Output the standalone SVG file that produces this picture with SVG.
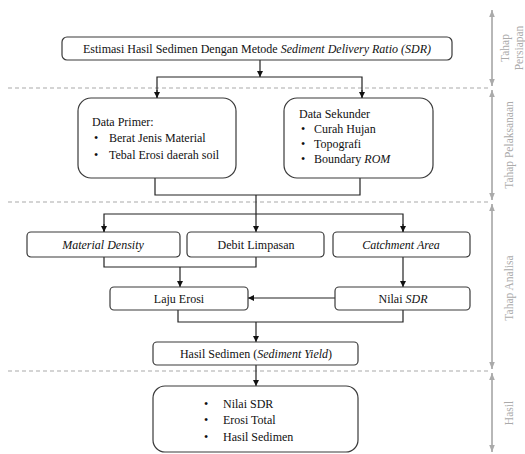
<svg xmlns="http://www.w3.org/2000/svg" width="525" height="454" viewBox="0 0 525 454">
<style>
.box{fill:#fff;stroke:#3a3a3a;stroke-width:1.2}
.t{font-family:"Liberation Serif","Times New Roman",serif;font-size:12px;fill:#111}
.i{font-style:italic}
.c{text-anchor:middle}
.ln{fill:none;stroke:#222;stroke-width:1.2}
.dash{stroke:#aaa;stroke-width:1.2;stroke-dasharray:4 3;fill:none}
.side{stroke:#aaa;stroke-width:1.2;fill:none}
.st{font-family:"Liberation Serif","Times New Roman",serif;font-size:11.5px;fill:#aaa;text-anchor:middle}
</style>
<defs>
<marker id="ar" viewBox="0 0 10 10" refX="10" refY="5" markerWidth="6" markerHeight="6" orient="auto" markerUnits="userSpaceOnUse">
<path d="M0,0 L10,5 L0,10 z" fill="#111"/>
</marker>
<marker id="ga" viewBox="0 0 10 10" refX="10" refY="5" markerWidth="7" markerHeight="7" orient="auto" markerUnits="userSpaceOnUse">
<path d="M0,1 L10,5 L0,9 z" fill="#aaa"/>
</marker>
</defs>
<g id="dividers">
<line class="dash" x1="8" y1="88" x2="488" y2="88"/>
<line class="dash" x1="8" y1="202" x2="488" y2="202"/>
<line class="dash" x1="8" y1="371" x2="488" y2="371"/>
</g>
<g id="stages">
<line class="side" x1="492" y1="86" x2="492" y2="10" marker-end="url(#ga)"/>
<line class="side" x1="492" y1="10" x2="492" y2="86" marker-end="url(#ga)"/>
<line class="side" x1="492" y1="200" x2="492" y2="90" marker-end="url(#ga)"/>
<line class="side" x1="492" y1="90" x2="492" y2="200" marker-end="url(#ga)"/>
<line class="side" x1="492" y1="369" x2="492" y2="204" marker-end="url(#ga)"/>
<line class="side" x1="492" y1="204" x2="492" y2="369" marker-end="url(#ga)"/>
<line class="side" x1="492" y1="452" x2="492" y2="373" marker-end="url(#ga)"/>
<line class="side" x1="492" y1="373" x2="492" y2="452" marker-end="url(#ga)"/>
<text class="st" transform="translate(509,48) rotate(-90)">Tahap</text>
<text class="st" transform="translate(523,48) rotate(-90)">Persiapan</text>
<text class="st" transform="translate(513,145) rotate(-90)">Tahap Pelaksanaan</text>
<text class="st" transform="translate(513,288) rotate(-90)">Tahap Analisa</text>
<text class="st" transform="translate(513,413) rotate(-90)">Hasil</text>
</g>
<g id="connectors">
<line class="ln" x1="260" y1="60" x2="260" y2="77" marker-end="url(#ar)"/>
<polyline class="ln" points="157,98 157,77 362,77 362,98"/>
<line class="ln" x1="157" y1="90" x2="157" y2="98" marker-end="url(#ar)"/>
<line class="ln" x1="362" y1="90" x2="362" y2="98" marker-end="url(#ar)"/>
<polyline class="ln" points="155,178 155,195 360,195 360,178"/>
<line class="ln" x1="256" y1="195" x2="256" y2="232" marker-end="url(#ar)"/>
<polyline class="ln" points="104,232 104,214 403,214 403,232"/>
<line class="ln" x1="104" y1="224" x2="104" y2="232" marker-end="url(#ar)"/>
<line class="ln" x1="403" y1="224" x2="403" y2="232" marker-end="url(#ar)"/>
<polyline class="ln" points="104,257 104,267 256,267 256,257"/>
<line class="ln" x1="180" y1="267" x2="180" y2="287" marker-end="url(#ar)"/>
<line class="ln" x1="403" y1="257" x2="403" y2="287" marker-end="url(#ar)"/>
<line class="ln" x1="335" y1="298" x2="248" y2="298" marker-end="url(#ar)"/>
<polyline class="ln" points="178,310 178,322 403,322 403,310"/>
<line class="ln" x1="256" y1="322" x2="256" y2="342" marker-end="url(#ar)"/>
<line class="ln" x1="256" y1="365" x2="256" y2="386" marker-end="url(#ar)"/>
</g>
<g id="n-estimasi">
<rect class="box" x="62" y="37" width="390" height="23" rx="5"/>
<text class="t c" x="257" y="53">Estimasi Hasil Sedimen Dengan Metode <tspan class="i">Sediment Delivery Ratio (SDR)</tspan></text>
</g>
<g id="n-primer">
<rect class="box" x="78" y="98" width="158" height="80" rx="13"/>
<text class="t" x="92" y="126">Data Primer:</text>
<text class="t" x="94" y="142">•</text>
<text class="t" x="109" y="142">Berat Jenis Material</text>
<text class="t" x="94" y="159">•</text>
<text class="t" x="109" y="159">Tebal Erosi daerah soil</text>
</g>
<g id="n-sekunder">
<rect class="box" x="284" y="98" width="149" height="80" rx="13"/>
<text class="t" x="299" y="118">Data Sekunder</text>
<text class="t" x="301" y="133">•</text>
<text class="t" x="314" y="133">Curah Hujan</text>
<text class="t" x="301" y="148">•</text>
<text class="t" x="314" y="148">Topografi</text>
<text class="t" x="301" y="163">•</text>
<text class="t" x="314" y="163">Boundary <tspan class="i">ROM</tspan></text>
</g>
<g id="n-density">
<rect class="box" x="27" y="232" width="153" height="25" rx="4"/>
<text class="t c i" x="103" y="249">Material Density</text>
</g>
<g id="n-debit">
<rect class="box" x="187" y="232" width="137" height="25" rx="4"/>
<text class="t c" x="256" y="249">Debit Limpasan</text>
</g>
<g id="n-catchment">
<rect class="box" x="333" y="232" width="137" height="25" rx="4"/>
<text class="t c i" x="401" y="249">Catchment Area</text>
</g>
<g id="n-laju">
<rect class="box" x="110" y="287" width="138" height="23" rx="4"/>
<text class="t c" x="179" y="303">Laju Erosi</text>
</g>
<g id="n-sdr">
<rect class="box" x="335" y="287" width="135" height="23" rx="4"/>
<text class="t c" x="403" y="303">Nilai <tspan class="i">SDR</tspan></text>
</g>
<g id="n-hasil">
<rect class="box" x="153" y="342" width="205" height="23" rx="4"/>
<text class="t c" x="256" y="358">Hasil Sedimen (<tspan class="i">Sediment Yield</tspan>)</text>
</g>
<g id="n-output">
<rect class="box" x="153" y="386" width="205" height="66" rx="12"/>
<text class="t" x="204" y="408">•</text>
<text class="t" x="223" y="408">Nilai SDR</text>
<text class="t" x="204" y="424">•</text>
<text class="t" x="223" y="424">Erosi Total</text>
<text class="t" x="204" y="441">•</text>
<text class="t" x="223" y="441">Hasil Sedimen</text>
</g>
</svg>
